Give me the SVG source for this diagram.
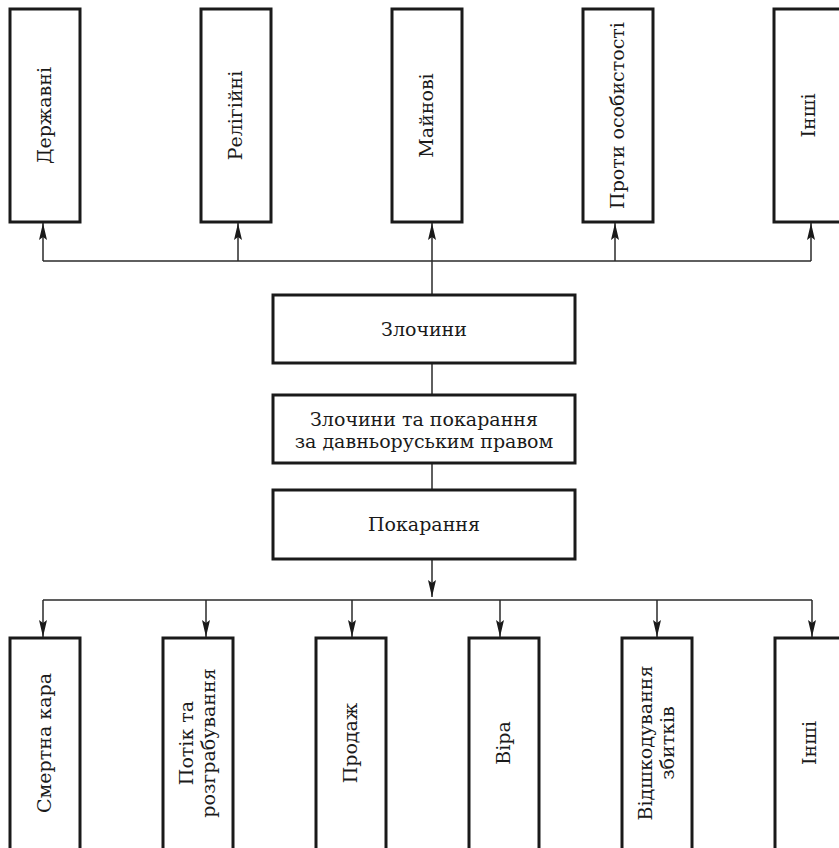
<svg xmlns="http://www.w3.org/2000/svg" width="839" height="848" viewBox="0 0 839 848">
<style>
.box{fill:none;stroke:#1a1a1a;stroke-width:3}
.t{font-family:"DejaVu Serif","Liberation Serif",serif;font-size:19px;fill:#1a1a1a;text-anchor:middle}
.c{fill:none;stroke:#2a2a2a;stroke-width:1.5}
</style>
<defs>
<marker id="ah" markerUnits="userSpaceOnUse" markerWidth="18" markerHeight="10" refX="17" refY="5" orient="auto">
<path d="M0,1 L17,5 L0,9 L3,5 z" fill="#1a1a1a"/>
</marker>
</defs>
<rect width="839" height="848" fill="#ffffff"/>
<g id="connectors">
<path class="c" d="M43,261 H811"/>
<path class="c" d="M43,261 V223" marker-end="url(#ah)"/>
<path class="c" d="M238,261 V223" marker-end="url(#ah)"/>
<path class="c" d="M432,295 V223" marker-end="url(#ah)"/>
<path class="c" d="M615,261 V223" marker-end="url(#ah)"/>
<path class="c" d="M811,261 V223" marker-end="url(#ah)"/>
<path class="c" d="M432,363 V395"/>
<path class="c" d="M432,463 V490"/>
<path class="c" d="M432,559 V597" marker-end="url(#ah)"/>
<path class="c" d="M43,600 H812"/>
<path class="c" d="M43,600 V637" marker-end="url(#ah)"/>
<path class="c" d="M206,600 V637" marker-end="url(#ah)"/>
<path class="c" d="M352,600 V637" marker-end="url(#ah)"/>
<path class="c" d="M500,600 V637" marker-end="url(#ah)"/>
<path class="c" d="M657,600 V637" marker-end="url(#ah)"/>
<path class="c" d="M812,600 V637" marker-end="url(#ah)"/>
</g>
<g id="derzhavni"><rect class="box" x="10" y="9" width="70" height="213"/><text class="t" transform="translate(51,115.5) rotate(-90)">Державні</text></g>
<g id="relihiini"><rect class="box" x="201" y="9" width="70" height="213"/><text class="t" transform="translate(242,115.5) rotate(-90)">Релігійні</text></g>
<g id="mainovi"><rect class="box" x="392" y="9" width="70" height="213"/><text class="t" transform="translate(433,115.5) rotate(-90)">Майнові</text></g>
<g id="proty"><rect class="box" x="583" y="9" width="70" height="213"/><text class="t" transform="translate(624,115.5) rotate(-90)">Проти особистості</text></g>
<g id="inshi1"><rect class="box" x="774" y="9" width="70" height="213"/><text class="t" transform="translate(815,115.5) rotate(-90)">Інші</text></g>
<g id="zlochyny"><rect class="box" x="273" y="295" width="302" height="68"/><text class="t" x="424" y="336">Злочини</text></g>
<g id="zlochyny-pokarannia"><rect class="box" x="273" y="395" width="302" height="68"/><text class="t" x="424" y="426">Злочини та покарання</text><text class="t" x="424" y="448">за давньоруським правом</text></g>
<g id="pokarannia"><rect class="box" x="273" y="490" width="302" height="69"/><text class="t" x="424" y="531">Покарання</text></g>
<g id="smertna"><rect class="box" x="10" y="638" width="70" height="230"/><text class="t" transform="translate(51,743) rotate(-90)">Смертна кара</text></g>
<g id="potik"><rect class="box" x="163" y="638" width="70" height="230"/><text class="t" transform="translate(193,743) rotate(-90)">Потік та</text><text class="t" transform="translate(215,743) rotate(-90)">розграбування</text></g>
<g id="prodazh"><rect class="box" x="316" y="638" width="70" height="230"/><text class="t" transform="translate(357,743) rotate(-90)">Продаж</text></g>
<g id="vira"><rect class="box" x="469" y="638" width="70" height="230"/><text class="t" transform="translate(510,743) rotate(-90)">Віра</text></g>
<g id="vidshkoduvannia"><rect class="box" x="622" y="638" width="70" height="230"/><text class="t" transform="translate(652,743) rotate(-90)">Відшкодування</text><text class="t" transform="translate(674,743) rotate(-90)">збитків</text></g>
<g id="inshi2"><rect class="box" x="775" y="638" width="70" height="230"/><text class="t" transform="translate(816,743) rotate(-90)">Інші</text></g>
</svg>
